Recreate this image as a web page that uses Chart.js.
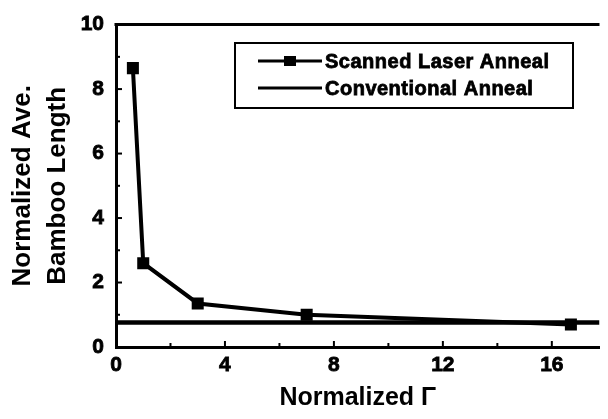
<!DOCTYPE html>
<html>
<head>
<meta charset="utf-8">
<script src="https://cdn.jsdelivr.net/npm/chart.js@4.4.1/dist/chart.umd.min.js"></script>
<style>
  html, body { margin: 0; padding: 0; background: #fff; }
  #wrap { width: 608px; height: 419px; }
</style>
</head>
<body>
<div id="wrap"><canvas id="chart" width="608" height="419"></canvas></div>
<script>
// normalized gamma vs. normalized average bamboo length
const gammaLaser = [0.62, 1.0, 3.0, 7.0, 16.7];
const lengthLaser = [8.65, 2.6, 1.35, 1.0, 0.7];
const conventionalLength = 0.76;

const xRange = [0, 17.75];
const yRange = [0, 10];
const xTicks = [0, 4, 8, 12, 16];
const yTicks = [0, 2, 4, 6, 8, 10];
const xMinorTicks = [2, 6, 10, 14];
const yMinorTicks = [1, 3, 5, 7, 9];

const seriesLabels = ['Scanned Laser Anneal', 'Conventional Anneal'];
const xTitle = 'Normalized \u0393';
const yTitle = ['Normalized Ave.', 'Bamboo Length'];

const FONT = "'Liberation Sans', Arial, Helvetica, sans-serif";
Chart.defaults.font.family = FONT;
Chart.defaults.color = '#000';

// inward tick marks, top frame line and the boxed legend
const frame = {
  id: 'frame',
  afterDraw(chart) {
    const { ctx, chartArea: a, scales: { x, y } } = chart;
    ctx.save();
    ctx.strokeStyle = '#000';

    ctx.lineWidth = 3;
    ctx.beginPath();
    ctx.moveTo(a.left - 1.5, a.top);
    ctx.lineTo(a.right, a.top);
    ctx.stroke();

    ctx.lineWidth = 2;
    const xMark = (v, len) => {
      const px = x.getPixelForValue(v);
      ctx.beginPath(); ctx.moveTo(px, a.bottom); ctx.lineTo(px, a.bottom - len); ctx.stroke();
    };
    const yMark = (v, len) => {
      const py = y.getPixelForValue(v);
      ctx.beginPath(); ctx.moveTo(a.left, py); ctx.lineTo(a.left + len, py); ctx.stroke();
    };
    xTicks.forEach(v => xMark(v, 6));
    xMinorTicks.forEach(v => xMark(v, 4));
    yTicks.forEach(v => yMark(v, 6));
    yMinorTicks.forEach(v => yMark(v, 4));

    // legend
    ctx.lineWidth = 2;
    ctx.strokeRect(235, 43, 338, 65);
    const rows = [61, 88];
    chart.data.datasets.forEach((ds, i) => {
      const ry = rows[i];
      ctx.lineWidth = 3;
      ctx.beginPath(); ctx.moveTo(258, ry); ctx.lineTo(322, ry); ctx.stroke();
      if (ds.pointRadius > 0) {
        ctx.fillStyle = '#000';
        ctx.fillRect(284, ry - 5, 12, 10);
      }
      ctx.fillStyle = '#000';
      ctx.font = 'bold 20px ' + FONT;
      ctx.letterSpacing = '0.5px';
      ctx.textBaseline = 'middle';
      ctx.textAlign = 'left';
      ctx.lineWidth = 0.8;
      ctx.fillText(ds.label, 325, ry + 1);
      ctx.strokeText(ds.label, 325, ry + 1);
    });
    ctx.restore();
  }
};

const laserPoints = gammaLaser.map((g, i) => ({ x: g, y: lengthLaser[i] }));
const conventionalPoints = xRange.map(g => ({ x: g, y: conventionalLength }));

const tickFont = { size: 21, weight: 'bold' };

new Chart(document.getElementById('chart'), {
  type: 'scatter',
  data: {
    datasets: [
      {
        label: seriesLabels[0],
        data: laserPoints,
        showLine: true,
        borderColor: '#000',
        backgroundColor: '#000',
        borderWidth: 4,
        pointStyle: 'rect',
        pointRadius: 8.5,
        pointBorderWidth: 0
      },
      {
        label: seriesLabels[1],
        data: conventionalPoints,
        showLine: true,
        borderColor: '#000',
        borderWidth: 4.5,
        pointRadius: 0
      }
    ]
  },
  options: {
    responsive: false,
    animation: false,
    devicePixelRatio: 1,
    layout: { padding: { top: 17, right: 0, bottom: 0, left: 0 } },
    plugins: { legend: { display: false }, tooltip: { enabled: false } },
    scales: {
      x: {
        type: 'linear',
        min: xRange[0],
        max: xRange[1],
        afterBuildTicks: s => { s.ticks = xTicks.map(v => ({ value: v })); },
        afterFit: s => { s.height = 72; },
        grid: { display: false, drawTicks: false },
        border: { display: true, color: '#000', width: 3 },
        ticks: { padding: 6, font: tickFont, color: '#000', textStrokeColor: '#000', textStrokeWidth: 0.8 },
        title: {
          display: true,
          text: xTitle,
          font: { size: 25, weight: 'bold' },
          color: '#000',
          padding: { top: 0, bottom: 6 }
        }
      },
      y: {
        type: 'linear',
        min: yRange[0],
        max: yRange[1],
        afterBuildTicks: s => { s.ticks = yTicks.map(v => ({ value: v })); },
        afterFit: s => { s.width = 116; },
        grid: { display: false, drawTicks: false },
        border: { display: true, color: '#000', width: 3 },
        ticks: { padding: 12, font: tickFont, color: '#000', textStrokeColor: '#000', textStrokeWidth: 0.8 },
        title: {
          display: true,
          text: yTitle,
          font: { size: 26, weight: 'bold', lineHeight: '35px' },
          color: '#000',
          padding: { top: 5.5, bottom: 0 }
        }
      }
    }
  },
  plugins: [frame]
});
</script>
</body>
</html>
